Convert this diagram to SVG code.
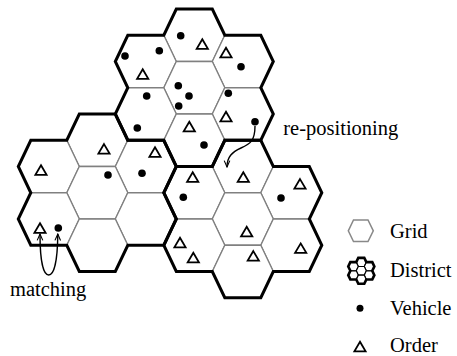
<svg xmlns="http://www.w3.org/2000/svg" xmlns:xlink="http://www.w3.org/1999/xlink" width="457" height="356" viewBox="0 0 457 356">
<style>
.cell{fill:#fff;stroke:#808080;stroke-width:1.3}
.dist{fill:none;stroke:#000;stroke-width:3;stroke-linejoin:miter}
.veh{fill:#000}
.ord{fill:#fff;stroke:#000;stroke-width:1.8;stroke-linejoin:miter}
.conn{fill:none;stroke:#000;stroke-width:1.4}
.lbl{font-family:"Liberation Serif","Times New Roman",serif;font-size:20.5px;fill:#000}
</style>
<defs>
<path id="hex" d="M-30.5,0 L-18,-26.25 L18,-26.25 L30.5,0 L18,26.25 L-18,26.25 Z"/>
<path id="flower" d="M-18,-78.75 L18,-78.75 L30.5,-52.5 L66.5,-52.5 L79,-26.25 L66.5,0 L79,26.25 L66.5,52.5 L30.5,52.5 L18,78.75 L-18,78.75 L-30.5,52.5 L-66.5,52.5 L-79,26.25 L-66.5,0 L-79,-26.25 L-66.5,-52.5 L-30.5,-52.5 Z"/>
<path id="tri" d="M0,-5.2 L5.6,4.3 L-5.6,4.3 Z"/>
<marker id="arr" viewBox="0 0 10 10" refX="9" refY="5" markerWidth="8" markerHeight="8" orient="auto-start-reverse" markerUnits="userSpaceOnUse">
<path d="M1,1.5 L9,5 L1,8.5" fill="none" stroke="#000" stroke-width="1.4"/>
</marker>
</defs>

<g id="district-top">
<use href="#hex" class="cell" x="194.3" y="35.25"/>
<use href="#hex" class="cell" x="145.8" y="61.5"/>
<use href="#hex" class="cell" x="242.8" y="61.5"/>
<use href="#hex" class="cell" x="194.3" y="87.75"/>
<use href="#hex" class="cell" x="145.8" y="114"/>
<use href="#hex" class="cell" x="242.8" y="114"/>
<use href="#hex" class="cell" x="194.3" y="140.25"/>
</g>
<g id="district-left">
<use href="#hex" class="cell" x="97.3" y="140.25"/>
<use href="#hex" class="cell" x="48.8" y="166.5"/>
<use href="#hex" class="cell" x="145.8" y="166.5"/>
<use href="#hex" class="cell" x="97.3" y="192.75"/>
<use href="#hex" class="cell" x="48.8" y="219"/>
<use href="#hex" class="cell" x="145.8" y="219"/>
<use href="#hex" class="cell" x="97.3" y="245.25"/>
</g>
<g id="district-right">
<use href="#hex" class="cell" x="242.8" y="166.5"/>
<use href="#hex" class="cell" x="194.3" y="192.75"/>
<use href="#hex" class="cell" x="291.3" y="192.75"/>
<use href="#hex" class="cell" x="242.8" y="219"/>
<use href="#hex" class="cell" x="194.3" y="245.25"/>
<use href="#hex" class="cell" x="291.3" y="245.25"/>
<use href="#hex" class="cell" x="242.8" y="271.5"/>
</g>
<g id="district-outlines">
<use href="#flower" class="dist" x="194.3" y="87.75"/>
<use href="#flower" class="dist" x="97.3" y="192.75"/>
<use href="#flower" class="dist" x="242.8" y="219"/>
</g>

<g id="vehicles">
<circle class="veh" cx="180.7" cy="35.7" r="3.8"/>
<circle class="veh" cx="125" cy="56" r="3.8"/>
<circle class="veh" cx="159.3" cy="50.7" r="3.8"/>
<circle class="veh" cx="241" cy="66.7" r="3.8"/>
<circle class="veh" cx="178.3" cy="85.7" r="3.8"/>
<circle class="veh" cx="189" cy="96" r="3.8"/>
<circle class="veh" cx="178.7" cy="106" r="3.8"/>
<circle class="veh" cx="146.7" cy="96" r="3.8"/>
<circle class="veh" cx="228.3" cy="93.3" r="3.8"/>
<circle class="veh" cx="255" cy="121.7" r="3.8"/>
<circle class="veh" cx="137.3" cy="128" r="3.8"/>
<circle class="veh" cx="204" cy="145" r="3.8"/>
<circle class="veh" cx="142" cy="173.3" r="3.8"/>
<circle class="veh" cx="108" cy="175" r="3.8"/>
<circle class="veh" cx="58.3" cy="228" r="3.8"/>
<circle class="veh" cx="183.3" cy="197.3" r="3.8"/>
<circle class="veh" cx="281" cy="198" r="3.8"/>
</g>

<g id="orders">
<use href="#tri" class="ord" x="202.3" y="44.5"/>
<use href="#tri" class="ord" x="226" y="53"/>
<use href="#tri" class="ord" x="142.7" y="74.5"/>
<use href="#tri" class="ord" x="226" y="117"/>
<use href="#tri" class="ord" x="189.3" y="127"/>
<use href="#tri" class="ord" x="104" y="149.3"/>
<use href="#tri" class="ord" x="155" y="152.5"/>
<use href="#tri" class="ord" x="41" y="170.5"/>
<use href="#tri" class="ord" x="40" y="228.5"/>
<use href="#tri" class="ord" x="243.3" y="177.5"/>
<use href="#tri" class="ord" x="192.7" y="177.5"/>
<use href="#tri" class="ord" x="300" y="184.3"/>
<use href="#tri" class="ord" x="246.7" y="232"/>
<use href="#tri" class="ord" x="180" y="243"/>
<use href="#tri" class="ord" x="193.3" y="258"/>
<use href="#tri" class="ord" x="253.3" y="256.3"/>
<use href="#tri" class="ord" x="300.7" y="248.6"/>
</g>

<g id="connectors">
<path class="conn" d="M255,126 C255,141 250,144 241,148 C232,152 227,157 227,167" marker-end="url(#arr)"/>
<path class="conn" d="M40,234 C40,266 44.5,275 48.7,275 C53,275 57.5,266 57.8,234" marker-start="url(#arr)" marker-end="url(#arr)"/>
</g>

<g id="labels">
<text class="lbl" x="283.3" y="134.5">re-positioning</text>
<text class="lbl" x="10" y="296">matching</text>
</g>

<g id="legend">
<path d="M348.3,230.8 L353.5,220 L368,220 L373.3,230.8 L368,241.6 L353.5,241.6 Z" fill="#fff" stroke="#888" stroke-width="1.5"/>
<text class="lbl" x="390" y="237.7">Grid</text>
<g transform="translate(361.3,270.8) scale(0.165)">
<use href="#hex" x="0" y="-52.5" fill="#fff" stroke="#000" stroke-width="7"/>
<use href="#hex" x="-48.5" y="-26.25" fill="#fff" stroke="#000" stroke-width="7"/>
<use href="#hex" x="48.5" y="-26.25" fill="#fff" stroke="#000" stroke-width="7"/>
<use href="#hex" x="0" y="0" fill="#fff" stroke="#000" stroke-width="7"/>
<use href="#hex" x="-48.5" y="26.25" fill="#fff" stroke="#000" stroke-width="7"/>
<use href="#hex" x="48.5" y="26.25" fill="#fff" stroke="#000" stroke-width="7"/>
<use href="#hex" x="0" y="52.5" fill="#fff" stroke="#000" stroke-width="7"/>
<use href="#flower" fill="none" stroke="#000" stroke-width="16"/>
</g>
<text class="lbl" x="390" y="276.7">District</text>
<circle class="veh" cx="360" cy="308.3" r="3.5"/>
<text class="lbl" x="390" y="315">Vehicle</text>
<use href="#tri" class="ord" x="360" y="347"/>
<text class="lbl" x="390" y="351.7">Order</text>
</g>
</svg>
